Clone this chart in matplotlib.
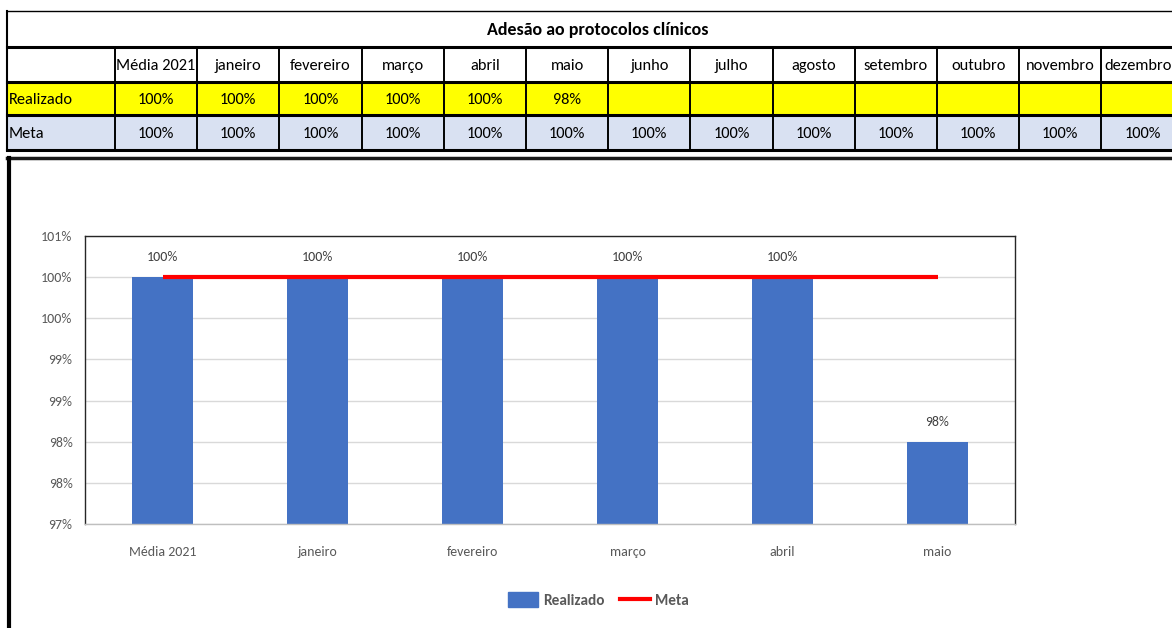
import math
import numpy as np
import matplotlib
matplotlib.use("Agg")
import matplotlib.pyplot as plt
from matplotlib import font_manager
from matplotlib.patches import Rectangle, Patch
from matplotlib.lines import Line2D
from matplotlib.ticker import MultipleLocator, FuncFormatter

# Calibri-like narrow font, whichever is installed
installed = {f.name for f in font_manager.fontManager.ttflist}
for fam in ["Carlito", "Liberation Sans Narrow", "DejaVu Sans Condensed", "Roboto Condensed", "Lato"]:
    if fam in installed:
        break
else:
    fam = "DejaVu Sans"
plt.rcParams['font.family'] = [fam, 'DejaVu Sans']

title = "Adesão ao protocolos clínicos"
months = ["Média 2021", "janeiro", "fevereiro", "março", "abril", "maio", "junho",
          "julho", "agosto", "setembro", "outubro", "novembro", "dezembro"]
realizado = [1.00, 1.00, 1.00, 1.00, 1.00, 0.98]
meta = [1.00, 1.00, 1.00, 1.00, 1.00, 1.00, 1.00, 1.00, 1.00, 1.00, 1.00, 1.00, 1.00]
row_names = ["Realizado", "Meta"]

BLUE = "#4472C4"
RED = "#FF0000"
YELLOW = "#FFFF00"
META_BG = "#D9E1F2"
GRAY_TXT = "#595959"

W, H = 1172, 628
fig = plt.figure(figsize=(W / 100, H / 100), dpi=100)
renderer = fig.canvas.get_renderer()


def fit_size(s, target_px, weight="normal"):
    # font size that gives the text the width it has in the reference
    t = fig.text(0, 0, s, fontsize=10, fontweight=weight)
    w = t.get_window_extent(renderer).width
    t.remove()
    return 10 * target_px / w


# Calibri is narrower than the fallback: go a bit over the width fit so heights look closer
tfont = min(fit_size("Média 2021", 75) * 1.06, 12.5)
title_size = min(fit_size(title, 211, "bold") * 1.06, 13)
chart_size = min(fit_size("Média 2021", 61) * 1.18, 10)
leg_size = min(fit_size("Realizado", 59, "bold") * 1.1, 11)

# background layer in pixel coords (table + frames)
bg = fig.add_axes([0, 0, 1, 1])
bg.set_xlim(0, W)
bg.set_ylim(H, 0)
bg.axis("off")

x_left, x_lab = 7, 115
col_w = 82.2
edges = [x_lab + col_w * i for i in range(len(months) + 1)]
rows = {"title": (11, 47), "head": (47, 82), "real": (82, 115), "meta": (115, 150)}

bg.add_patch(Rectangle((x_left, rows["real"][0]), W - x_left, rows["real"][1] - rows["real"][0],
                       facecolor=YELLOW, edgecolor="none"))
bg.add_patch(Rectangle((x_left, rows["meta"][0]), W - x_left, rows["meta"][1] - rows["meta"][0],
                       facecolor=META_BG, edgecolor="none"))

va = "center_baseline"
bg.text(598, sum(rows["title"]) / 2, title, ha="center", va=va,
        fontsize=title_size, fontweight="bold")
bg.text(x_left + 2, sum(rows["real"]) / 2, row_names[0], ha="left", va=va, fontsize=tfont)
bg.text(x_left + 2, sum(rows["meta"]) / 2, row_names[1], ha="left", va=va, fontsize=tfont)
for i, m in enumerate(months):
    cx = (edges[i] + edges[i + 1]) / 2
    if i == len(months) - 1:
        # last column is cut by the screenshot edge: left-align so it reads from the border
        bg.text(edges[i] + 3, sum(rows["head"]) / 2, m, ha="left", va=va, fontsize=tfont)
    else:
        bg.text(cx, sum(rows["head"]) / 2, m, ha="center", va=va, fontsize=tfont)
    if i < len(realizado):
        bg.text(cx, sum(rows["real"]) / 2, f"{realizado[i]:.0%}", ha="center", va=va, fontsize=tfont)
    bg.text(cx, sum(rows["meta"]) / 2, f"{meta[i]:.0%}", ha="center", va=va, fontsize=tfont)

# table lines
bg.plot([x_left, W], [11, 11], color="black", lw=1)
for y in (47, 82, 115, 150):
    bg.plot([x_left, W], [y, y], color="black", lw=2.2)
bg.plot([x_left, x_left], [11, 150], color="black", lw=1.5)
for xe in edges:
    bg.plot([xe, xe], [47, 150], color="black", lw=1.4)

# chart frame
bg.plot([x_left, W], [158, 158], color="#1a1a1a", lw=2.5)
bg.plot([9, 9], [158, H], color="black", lw=3)

# chart
ax = fig.add_axes([85 / W, (H - 524) / H, 930 / W, 288 / H])
x = np.arange(len(realizado))
ax.bar(x, realizado, width=0.39, color=BLUE, zorder=2)
ax.plot(x, meta[:len(realizado)], color=RED, lw=3, solid_capstyle="butt", zorder=3)
for xi, v in zip(x, realizado):
    ax.annotate(f"{v:.0%}", (xi, v), xytext=(0, 10), textcoords="offset points",
                ha="center", va="bottom", fontsize=chart_size, color="#404040")

ax.set_xlim(-0.5, len(realizado) - 0.5)
ax.set_ylim(0.97, 1.005)
ax.yaxis.set_major_locator(MultipleLocator(0.005))
ax.yaxis.set_major_formatter(FuncFormatter(lambda v, p: f"{math.floor(v * 100 + 0.5 + 1e-6)}%"))
ax.set_xticks(x)
ax.set_xticklabels(months[:len(realizado)])
ax.tick_params(axis="both", length=0, labelsize=chart_size, colors=GRAY_TXT)
ax.tick_params(axis="y", pad=9)
ax.tick_params(axis="x", pad=16)
ax.grid(axis="y", color="#D9D9D9", lw=1)
ax.set_axisbelow(True)
for s in ("left", "top", "right"):
    ax.spines[s].set_color("#262626")
    ax.spines[s].set_linewidth(1)
ax.spines["bottom"].set_color("#BFBFBF")
ax.spines["bottom"].set_linewidth(1)

handles = [Patch(color=BLUE, label="Realizado"),
           Line2D([], [], color=RED, lw=3, label="Meta")]
fig.legend(handles=handles, loc="center", bbox_to_anchor=(598 / W, 1 - 600 / H), ncol=2,
           frameon=False, prop={"weight": "bold", "size": leg_size}, labelcolor=GRAY_TXT,
           handlelength=2.0, handleheight=1.1, handletextpad=0.3, columnspacing=1.0)

fig.savefig("out.png", dpi=100)
